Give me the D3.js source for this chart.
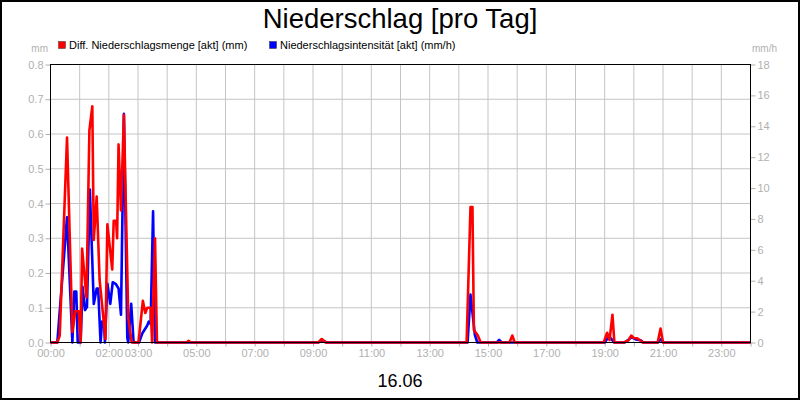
<!DOCTYPE html>
<html>
<head>
<meta charset="utf-8">
<script src="https://cdn.jsdelivr.net/npm/d3@7"></script>
<style>
  body { margin: 0; background: #fff; }
  svg { display: block; font-family: 'Liberation Sans', Arial, sans-serif; }
</style>
</head>
<body>
<div id="chart"></div>
<script>
// minutes since midnight for each point of the red series (mm)
const mengeTimes = [0, 14, 19, 34, 45, 51, 58, 62, 65, 74, 80, 86, 89, 95, 101, 113, 117, 127, 130, 135, 137, 140, 145, 151, 160, 167, 181, 190, 195, 199, 206, 209, 215, 219, 280, 284, 289, 551, 558, 566, 856, 864, 868, 871, 879, 885, 944, 950, 955, 1138, 1145, 1150, 1156, 1160, 1179, 1188, 1195, 1200, 1207, 1214, 1218, 1249, 1255, 1260, 1440]
const mengeValues = [0, 0, 0.02, 0.59, 0.03, 0.09, 0.09, 0, 0.27, 0.13, 0.61, 0.68, 0.295, 0.42, 0.18, 0.01, 0.34, 0.21, 0.35, 0.35, 0.3, 0.57, 0.38, 0.655, 0.07, 0, 0, 0.12, 0.085, 0.1, 0.1, 0, 0.3, 0, 0, 0.005, 0, 0, 0.01, 0, 0, 0.39, 0.39, 0.036, 0.02, 0, 0, 0.02, 0, 0, 0.028, 0.007, 0.08, 0, 0, 0.005, 0.02, 0.013, 0.012, 0.005, 0, 0, 0.04, 0, 0]

// blue series (mm/h)
const intensTimes = [0, 14, 34, 45, 49, 53, 56, 62, 66, 71, 75, 81, 89, 95, 98, 103, 106, 110, 112, 117, 123, 128, 134, 140, 145, 151, 158, 160, 166, 171, 182, 189, 199, 202, 206, 211, 215, 551, 559, 568, 858, 864, 873, 878, 918, 923, 928, 1140, 1149, 1157, 1160, 1181, 1188, 1195, 1204, 1214, 1220, 1249, 1255, 1261, 1440]
const intensValues = [0, 0, 8.1, 0, 3.3, 3.3, 0, 0, 3.6, 2.1, 2.3, 9.9, 2.5, 3.5, 3.5, 0, 1.35, 1.35, 0, 3.8, 2.5, 3.9, 3.8, 3.5, 1.8, 14.8, 0.3, 0, 2.5, 0, 0, 0.6, 1.1, 1.35, 1.2, 8.5, 0, 0, 0.15, 0, 0, 3.1, 0.5, 0, 0, 0.17, 0, 0, 0.4, 0.1, 0, 0, 0.15, 0.35, 0.2, 0.15, 0, 0, 0.2, 0, 0]

const hourLabels = ['00:00', '02:00', '03:00', '05:00', '07:00', '09:00', '11:00', '13:00', '15:00', '17:00', '19:00', '21:00', '23:00']
const leftTicks = [0, 0.1, 0.2, 0.3, 0.4, 0.5, 0.6, 0.7, 0.8]
const rightTicks = [0, 2, 4, 6, 8, 10, 12, 14, 16, 18]

const margin = { top: 64.5, right: 49.5, bottom: 57.5, left: 50.5 }
const W = 800
const H = 400
const width = W - margin.left - margin.right
const height = H - margin.top - margin.bottom
const gray = '#b0b0b0'

const svg = d3.select('#chart').append('svg')
  .attr('width', W)
  .attr('height', H)

svg.append('rect')
  .attr('x', 1).attr('y', 1)
  .attr('width', W - 2).attr('height', H - 2)
  .attr('fill', '#fff')
  .attr('stroke', '#000')
  .attr('stroke-width', 2)

const g = svg.append('g')
  .attr('transform', 'translate(' + margin.left + ',' + margin.top + ')')

const x = d3.scaleLinear().domain([0, 1440]).range([0, width])
const yLeft = d3.scaleLinear().domain([0, 0.8]).range([height, 0])
const yRight = d3.scaleLinear().domain([0, 18]).range([height, 0])

const hours = d3.range(0, 25).map(h => h * 60)

// grid
g.append('g')
  .selectAll('line')
  .data(hours.slice(1, -1))
  .enter()
  .append('line')
  .attr('x1', d => x(d)).attr('x2', d => x(d))
  .attr('y1', 0).attr('y2', height)
  .attr('stroke', '#c4c4c4')

g.append('g')
  .selectAll('line')
  .data(leftTicks.slice(1, -1))
  .enter()
  .append('line')
  .attr('x1', 0).attr('x2', width)
  .attr('y1', d => yLeft(d)).attr('y2', d => yLeft(d))
  .attr('stroke', '#c4c4c4')

// axes
const xAxis = d3.axisBottom(x)
  .tickValues(hours)
  .tickSize(4)
  .tickPadding(3)
  .tickFormat(d => {
    const lab = d3.format('02d')(Math.floor(d / 60) % 24) + ':00'
    return hourLabels.includes(lab) && d < 1440 ? lab : ''
  })

const leftAxis = d3.axisLeft(yLeft)
  .tickValues(leftTicks)
  .tickSize(5)
  .tickPadding(2)
  .tickFormat(d3.format('.1f'))

const rightAxis = d3.axisRight(yRight)
  .tickValues(rightTicks)
  .tickSize(5)
  .tickPadding(2)

function styleAxis(sel) {
  sel.select('.domain').remove()
  sel.selectAll('.tick line').attr('stroke', gray)
  sel.selectAll('.tick text')
    .attr('fill', gray)
    .attr('font-size', 11)
    .attr('font-family', "'Liberation Sans', Arial, sans-serif")
}

g.append('g')
  .attr('transform', 'translate(0,' + height + ')')
  .call(xAxis)
  .call(styleAxis)

g.append('g')
  .call(leftAxis)
  .call(styleAxis)

g.append('g')
  .attr('transform', 'translate(' + width + ',0)')
  .call(rightAxis)
  .call(styleAxis)

// lines
const intensLine = d3.line()
  .x((d, i) => x(intensTimes[i]))
  .y(d => yRight(d))

const mengeLine = d3.line()
  .x((d, i) => x(mengeTimes[i]))
  .y(d => yLeft(d))

g.append('path')
  .datum(intensValues)
  .attr('d', intensLine)
  .attr('fill', 'none')
  .attr('stroke', '#0000ff')
  .attr('stroke-width', 2.6)
  .attr('stroke-linejoin', 'round')

g.append('path')
  .datum(mengeValues)
  .attr('d', mengeLine)
  .attr('fill', 'none')
  .attr('stroke', '#ff0000')
  .attr('stroke-width', 2.6)
  .attr('stroke-linejoin', 'round')

// plot frame
g.append('rect')
  .attr('width', width)
  .attr('height', height)
  .attr('fill', 'none')
  .attr('stroke', '#000')

// units
svg.append('text')
  .text('mm')
  .attr('x', 48).attr('y', 52)
  .attr('text-anchor', 'end')
  .attr('font-size', 10)
  .attr('fill', gray)

svg.append('text')
  .text('mm/h')
  .attr('x', 752).attr('y', 52)
  .attr('font-size', 10)
  .attr('fill', gray)

// legend
const legend = [
  { label: 'Diff. Niederschlagsmenge [akt] (mm)', color: '#ff0000', x: 58 },
  { label: 'Niederschlagsintensität [akt] (mm/h)', color: '#0000ff', x: 269 }
]

legend.forEach(d => {
  svg.append('rect')
    .attr('x', d.x + 0.5).attr('y', 41.5)
    .attr('width', 7).attr('height', 7)
    .attr('fill', d.color)
    .attr('stroke', '#333')
    .attr('stroke-width', 0.5)
  svg.append('text')
    .text(d.label)
    .attr('x', d.x + 11).attr('y', 49)
    .attr('font-size', 11)
    .attr('fill', '#000')
})

// title and date
svg.append('text')
  .text('Niederschlag [pro Tag]')
  .attr('x', 400).attr('y', 28)
  .attr('text-anchor', 'middle')
  .attr('font-size', 27.5)
  .attr('fill', '#000')

svg.append('text')
  .text('16.06')
  .attr('x', 400).attr('y', 387)
  .attr('text-anchor', 'middle')
  .attr('font-size', 18)
  .attr('fill', '#000')
</script>
</body>
</html>
